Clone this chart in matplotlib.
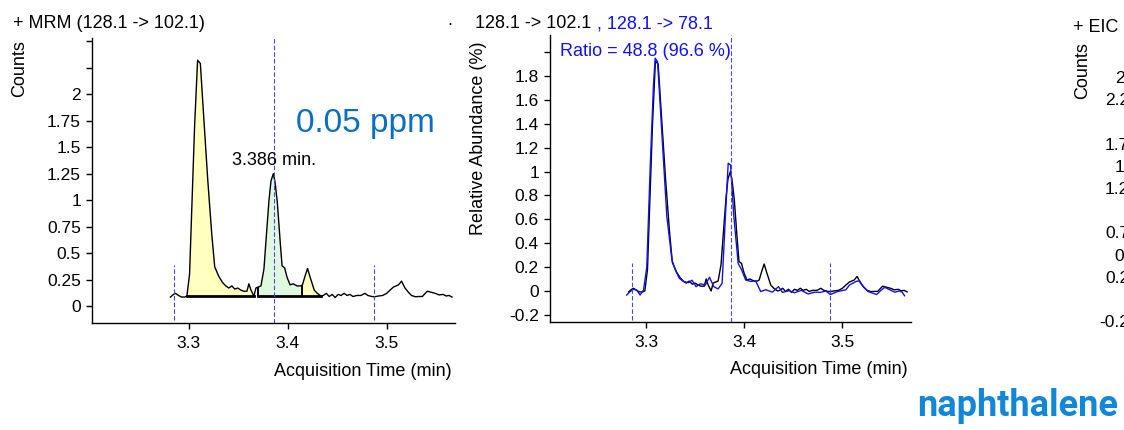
import matplotlib
matplotlib.use("Agg")
import matplotlib.pyplot as plt
import numpy as np

plt.rcParams['font.family'] = ['Liberation Sans', 'DejaVu Sans']

W, H = 1124, 430

# quantifier trace, MRM 128.1 -> 102.1 (counts)
mrm_time = [3.2817, 3.2848, 3.2868, 3.2898, 3.2929, 3.2960, 3.2983, 3.3010, 3.3030, 3.3061,
            3.3091, 3.3119, 3.3152, 3.3193, 3.3234, 3.3264, 3.3305, 3.3345, 3.3376, 3.3406,
            3.3437, 3.3467, 3.3497, 3.3528, 3.3558, 3.3589, 3.3609, 3.3630, 3.3660, 3.3680,
            3.3704, 3.3731, 3.3761, 3.3782, 3.3812, 3.3832, 3.3856, 3.3873, 3.3896, 3.3924,
            3.3944, 3.3970, 3.3995, 3.4025, 3.4056, 3.4096, 3.4132, 3.4150, 3.4175, 3.4201,
            3.4228, 3.4269, 3.4300, 3.4337, 3.4360, 3.4390, 3.4420, 3.4450, 3.4480, 3.4510,
            3.4540, 3.4570, 3.4600, 3.4630, 3.4660, 3.4700, 3.4740, 3.4780, 3.4810, 3.4850,
            3.4880, 3.4920, 3.4960, 3.5000, 3.5040, 3.5070, 3.5120, 3.5150, 3.5185, 3.5220,
            3.5250, 3.5290, 3.5330, 3.5360, 3.5410, 3.5450, 3.5490, 3.5530, 3.5570, 3.5600,
            3.5630, 3.5660]
mrm_counts = [0.085, 0.11, 0.12, 0.10, 0.085, 0.085, 0.094, 0.30, 0.85, 1.70,
              2.32, 2.29, 1.80, 1.20, 0.68, 0.37, 0.28, 0.22, 0.19, 0.17,
              0.19, 0.16, 0.17, 0.15, 0.14, 0.14, 0.21, 0.15, 0.094, 0.17,
              0.18, 0.19, 0.35, 0.62, 1.00, 1.18, 1.25, 1.17, 0.98, 0.62,
              0.38, 0.36, 0.27, 0.20, 0.21, 0.19, 0.19, 0.20, 0.28, 0.355,
              0.27, 0.15, 0.12, 0.094, 0.10, 0.12, 0.09, 0.11, 0.08, 0.11,
              0.10, 0.12, 0.10, 0.11, 0.09, 0.10, 0.10, 0.12, 0.10, 0.09,
              0.088, 0.095, 0.10, 0.12, 0.155, 0.18, 0.20, 0.235, 0.17, 0.13,
              0.10, 0.088, 0.09, 0.09, 0.14, 0.13, 0.12, 0.105, 0.11, 0.095,
              0.10, 0.085]

# qualifier trace 128.1 -> 78.1, relative abundance (%)
qual_time = [3.2798, 3.2833, 3.2867, 3.2900, 3.2935, 3.2970, 3.3003, 3.3038, 3.3072, 3.3089,
             3.3113, 3.3157, 3.3208, 3.3260, 3.3294, 3.3335, 3.3380, 3.3431, 3.3465, 3.3506,
             3.3550, 3.3600, 3.3643, 3.3687, 3.3731, 3.3772, 3.3807, 3.3834, 3.3858, 3.3892,
             3.3936, 3.3971, 3.4012, 3.4063, 3.4114, 3.4166, 3.4217, 3.4285, 3.4347, 3.4388,
             3.4456, 3.4510, 3.4580, 3.4650, 3.4720, 3.4775, 3.4830, 3.4877, 3.4950, 3.5035,
             3.5072, 3.5140, 3.5175, 3.5212, 3.5263, 3.5348, 3.5400, 3.5432, 3.5470, 3.5535,
             3.5580, 3.5610, 3.5634]
qual_rel = [-0.034, -0.005, 0.014, 0.008, -0.034, 0.008, 0.20, 1.04, 1.74, 1.95,
            1.92, 1.32, 0.62, 0.26, 0.176, 0.106, 0.078, 0.07, 0.09, 0.036,
            0.06, 0.05, 0.115, 0.036, 0.017, 0.064, 0.65, 1.07, 1.055, 0.62,
            0.23, 0.176, 0.092, 0.08, 0.085, -0.005, 0.01, -0.01, 0.036, -0.012,
            0.002, -0.015, 0.005, -0.025, -0.01, -0.012, 0.0, -0.03, -0.005, 0.01,
            0.05, 0.08, 0.085, 0.036, -0.005, -0.03, 0.01, 0.03, 0.015, -0.01,
            0.0, -0.01, -0.04]

# integration
rt = 3.386
window = [3.285, 3.487]
base_level = 0.094
apex_counts = 1.25
peak_regions = [(3.2983, 3.3660, '#ffffc0'),
                (3.3704, 3.4150, '#e0f8e0'),
                (3.4150, 3.4337, '#ffffc0')]

count_ticks = [-0.25, 0, 0.25, 0.5, 0.75, 1, 1.25, 1.5, 1.75, 2, 2.25, 2.5]
count_labels = ['-0.25', '0', '0.25', '0.5', '0.75', '1', '1.25', '1.5', '1.75', '2', '2.25', '2.5']
rel_ticks = [-0.2, 0, 0.2, 0.4, 0.6, 0.8, 1, 1.2, 1.4, 1.6, 1.8, 2.0]
rel_labels = ['-0.2', '0', '0.2', '0.4', '0.6', '0.8', '1', '1.2', '1.4', '1.6', '1.8', '']
time_ticks = [3.3, 3.4, 3.5]

mrm_time = np.array(mrm_time)
mrm_counts = np.array(mrm_counts)
quant_rel = (mrm_counts - base_level) / (apex_counts - base_level)

DASH = dict(color='#4646e0', lw=0.8, linestyle=(0, (4, 2)))
TICK_FS = 12.5
LABEL_FS = 13


def box(left, top, right, bottom):
    return [left / W, 1 - bottom / H, (right - left) / W, (bottom - top) / H]


def ftext(x, y, s, **kw):
    fig.text(x / W, 1 - y / H, s, **kw)


def style_axes(ax):
    for side in ['top', 'right']:
        ax.spines[side].set_visible(False)
    for side in ['left', 'bottom']:
        ax.spines[side].set_linewidth(1.0)
    ax.tick_params(axis='y', length=4, width=1, pad=4, labelsize=TICK_FS)
    ax.tick_params(axis='x', length=4, width=1, pad=5.5, labelsize=TICK_FS)
    ax.patch.set_alpha(0)


fig = plt.figure(figsize=(W / 100, H / 100), dpi=100)

# panel 1: quantifier chromatogram
ax1 = fig.add_axes(box(92, 38, 455, 323))
style_axes(ax1)
ax1.set_xlim(3.2025, 3.569)
ax1.set_ylim(-0.16, 2.53)
ax1.set_yticks(count_ticks[1:])
ax1.set_yticklabels(count_labels[1:10] + ['', ''])
ax1.set_xticks(time_ticks)
ax1.set_xticklabels(['3.3', '3.4', '3.5'])

for start, end, color in peak_regions:
    m = (mrm_time >= start - 1e-9) & (mrm_time <= end + 1e-9)
    ax1.fill_between(mrm_time[m], base_level, mrm_counts[m], color=color, lw=0)
ax1.plot([peak_regions[0][0], peak_regions[0][1]], [base_level, base_level], color='k', lw=2)
ax1.plot([peak_regions[1][0], peak_regions[2][1]], [base_level, base_level], color='k', lw=2)
for edge in [peak_regions[1][0], peak_regions[1][1]]:
    top = mrm_counts[np.argmin(np.abs(mrm_time - edge))]
    ax1.vlines(edge, base_level, top, color='k', lw=1.4)
ax1.plot(mrm_time, mrm_counts, color='k', lw=1.0)

ax1.vlines(window, -0.13, 0.39, **DASH)
ax1.vlines(rt, -0.16, 2.53, **DASH)
ax1.text(rt, apex_counts + 0.04, '3.386 min.', ha='center', va='bottom', fontsize=LABEL_FS)

ftext(13, 27.5, '+ MRM (128.1 -> 102.1)', fontsize=LABEL_FS, va='baseline')
ftext(447, 25, '.', fontsize=LABEL_FS, va='baseline')
ftext(20, 69, 'Counts', rotation=90, ha='center', va='center', fontsize=LABEL_FS)
ftext(452, 375.5, 'Acquisition Time (min)', ha='right', va='baseline', fontsize=LABEL_FS)
ftext(296, 132, '0.05 ppm', fontsize=24, color='#0a6fc2', va='baseline')

# panel 2: quantifier vs qualifier, relative abundance
ax2 = fig.add_axes(box(550, 35, 911, 322))
style_axes(ax2)
ax2.set_xlim(3.2015, 3.570)
ax2.set_ylim(-0.26, 2.144)
ax2.set_yticks(rel_ticks)
ax2.set_yticklabels(rel_labels)
ax2.set_xticks(time_ticks)
ax2.set_xticklabels(['3.3', '3.4', '3.5'])
ax2.plot(mrm_time, quant_rel, color='k', lw=1.0)
ax2.plot(qual_time, qual_rel, color='#1010ff', lw=1.0)
ax2.vlines(window, -0.243, 0.235, **DASH)
ax2.vlines(rt, -0.26, 2.144, **DASH)

ftext(475, 28.5, '128.1 -> 102.1', fontsize=LABEL_FS, va='baseline')
ftext(597, 28.5, ', 128.1 -> 78.1', fontsize=LABEL_FS, va='baseline', color='#1010ff')
ftext(560, 56.5, 'Ratio = 48.8 (96.6 %)', fontsize=LABEL_FS, va='baseline', color='#1010ff')
ftext(478.5, 138, 'Relative Abundance (%)', rotation=90, ha='center', va='center',
      fontsize=LABEL_FS)
ftext(908, 374, 'Acquisition Time (min)', ha='right', va='baseline', fontsize=LABEL_FS)

# panel 3: EIC, mostly beyond the right edge
ax3 = fig.add_axes(box(1150, 38, 1510, 322))
style_axes(ax3)
ax3.set_xlim(3.2025, 3.569)
ax3.set_ylim(-0.26, 2.94)
ax3.set_yticks(count_ticks)
ax3.set_yticklabels(count_labels)
ax3.set_xticks([])
ftext(1073, 31.5, '+ EIC (128.1)', fontsize=LABEL_FS, va='baseline')
ftext(1083, 70.5, 'Counts', rotation=90, ha='center', va='center', fontsize=LABEL_FS)

ftext(1118, 416, 'naphthalene', fontsize=26, fontweight='bold', color='#1387d7',
      ha='right', va='baseline', family=['Roboto', 'DejaVu Sans'])

fig.savefig('out.png', dpi=100)
